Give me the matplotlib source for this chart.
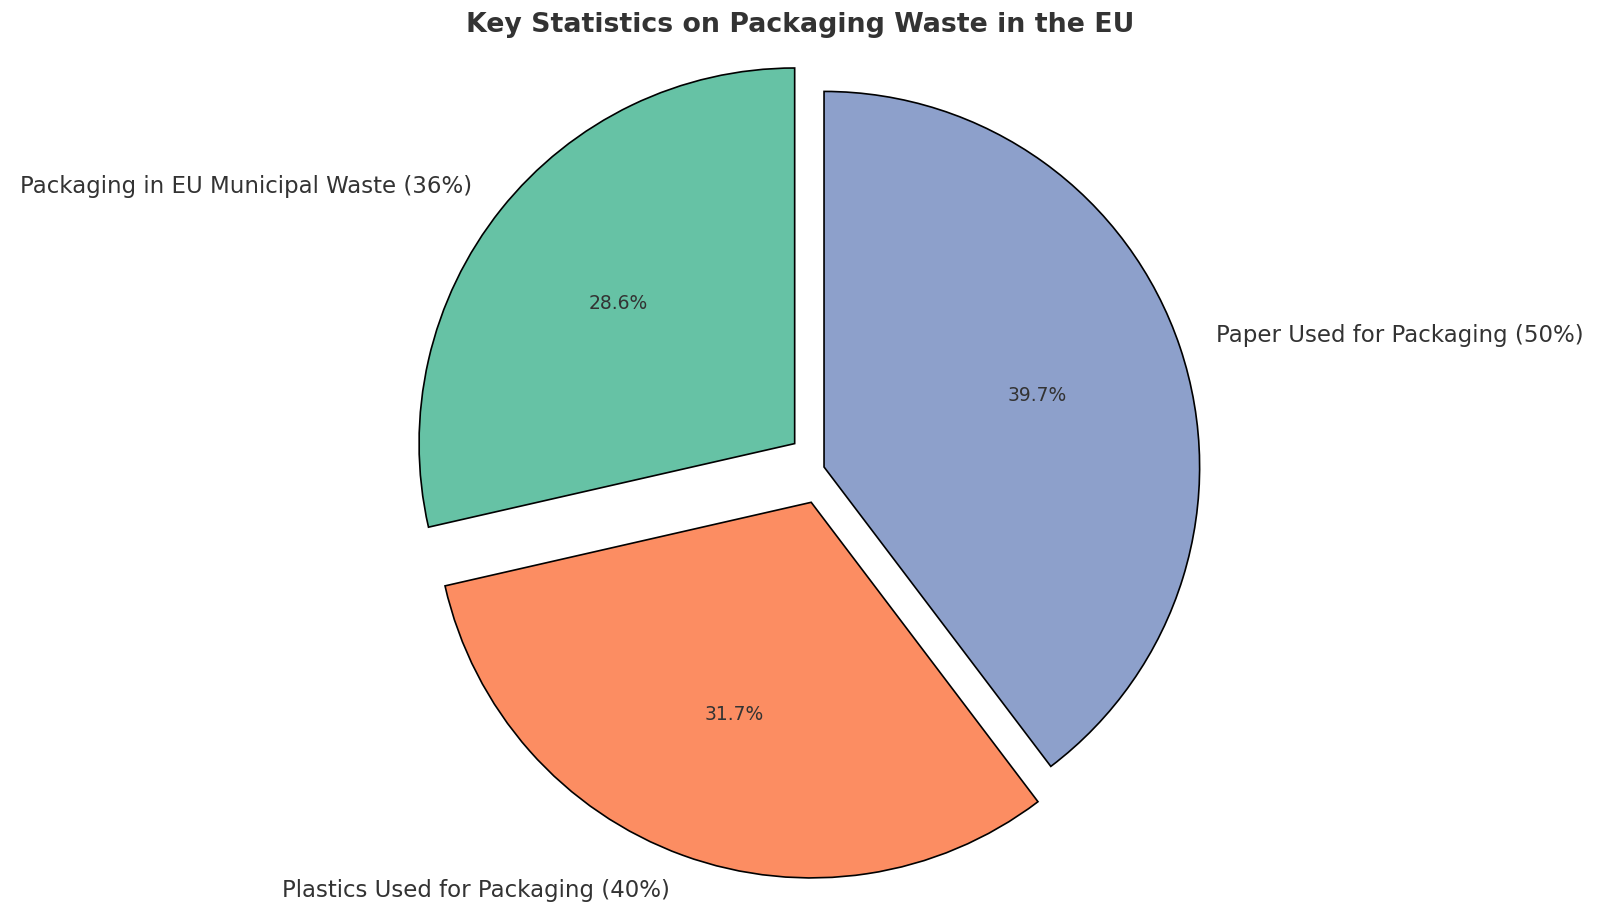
import matplotlib
import matplotlib.pyplot as plt

matplotlib.use("Agg")

labels = [
    "Packaging in EU Municipal Waste (36%)",
    "Plastics Used for Packaging (40%)",
    "Paper Used for Packaging (50%)",
]
values = [36, 40, 50]
colors = ["#66c2a5", "#fc8d62", "#8da0cb"]

plt.rcParams["text.color"] = "#333333"

fig = plt.figure(figsize=(16, 9.16), dpi=100)
ax = fig.add_axes([0, 0, 1, 1])
wedges, texts, autotexts = ax.pie(
    values,
    labels=labels,
    colors=colors,
    autopct="%1.1f%%",
    startangle=90,
    explode=[0.1, 0.1, 0.0],
    wedgeprops={"edgecolor": "black", "linewidth": 1.2},
    textprops={"fontsize": 16.5},
)
for t in autotexts:
    t.set_fontsize(13.5)
ax.set_xlim(-2.194, 2.066)
ax.set_ylim(-1.195, 1.243)
ax.set_aspect("equal")
ax.axis("off")
fig.suptitle("Key Statistics on Packaging Waste in the EU", fontsize=19.3, fontweight="bold",
             y=0.973, va="center")
fig.savefig("out.png")
